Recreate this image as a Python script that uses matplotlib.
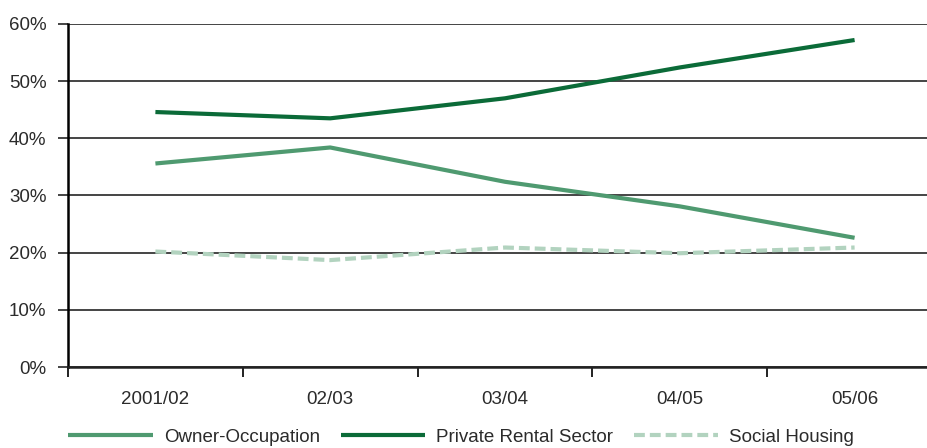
import numpy as np
import matplotlib.pyplot as plt

years = ["2001/02", "02/03", "03/04", "04/05", "05/06"]
owner_occupation = [35.6, 38.4, 32.4, 28.1, 22.6]
private_rental = [44.6, 43.5, 47.0, 52.4, 57.2]
social_housing = [20.2, 18.7, 20.9, 19.9, 20.9]

plt.rcParams['font.family'] = ['Liberation Sans', 'DejaVu Sans']
plt.rcParams['font.size'] = 13.5
plt.rcParams['text.color'] = '#2b2b2b'

fig = plt.figure(figsize=(9.28, 4.48), dpi=100)
ax = fig.add_axes([68 / 928, 81 / 448, 874 / 928, 343 / 448])

x = np.arange(len(years))
ax.plot(x, owner_occupation, color='#4f9a70', linewidth=3.0, label='Owner-Occupation',
        solid_capstyle='butt')
ax.plot(x, private_rental, color='#0b6b38', linewidth=3.0, label='Private Rental Sector',
        solid_capstyle='butt')
ax.plot(x, social_housing, color='#b2d3bf', linewidth=3.0, label='Social Housing',
        dashes=(2.6, 1.2), dash_capstyle='butt')

ax.set_xlim(-0.5, len(years) - 0.5)
ax.set_ylim(0, 60)

# horizontal grid lines drawn on the y ticks
ax.set_yticks(np.arange(0, 61, 10))
ax.set_yticklabels(['%d%%' % v for v in range(0, 61, 10)], color='#2b2b2b')
ax.yaxis.grid(True, color='#444444', linewidth=1.4)
ax.tick_params(axis='y', length=7.5, width=1.4, color='#444444', pad=8)
ax.set_axisbelow(True)

# category labels centred, ticks on the boundaries
ax.set_xticks(x)
ax.set_xticklabels(years, color='#2b2b2b')
ax.set_xticks(np.arange(-0.5, len(years)), minor=True)
ax.tick_params(axis='x', which='major', length=0, pad=17)
ax.tick_params(axis='x', which='minor', length=7.5, width=1.4, color='#222222')

for side in ['top', 'right']:
    ax.spines[side].set_visible(False)
ax.spines['left'].set_linewidth(1.8)
ax.spines['left'].set_color('black')
ax.spines['bottom'].set_linewidth(1.8)
ax.spines['bottom'].set_color('#222222')

fig.legend(loc='center', bbox_to_anchor=(0.497, 11 / 448), ncol=3, frameon=False,
           handlelength=4.5, handletextpad=0.6, columnspacing=1.1)

plt.savefig('out.png', dpi=100)
